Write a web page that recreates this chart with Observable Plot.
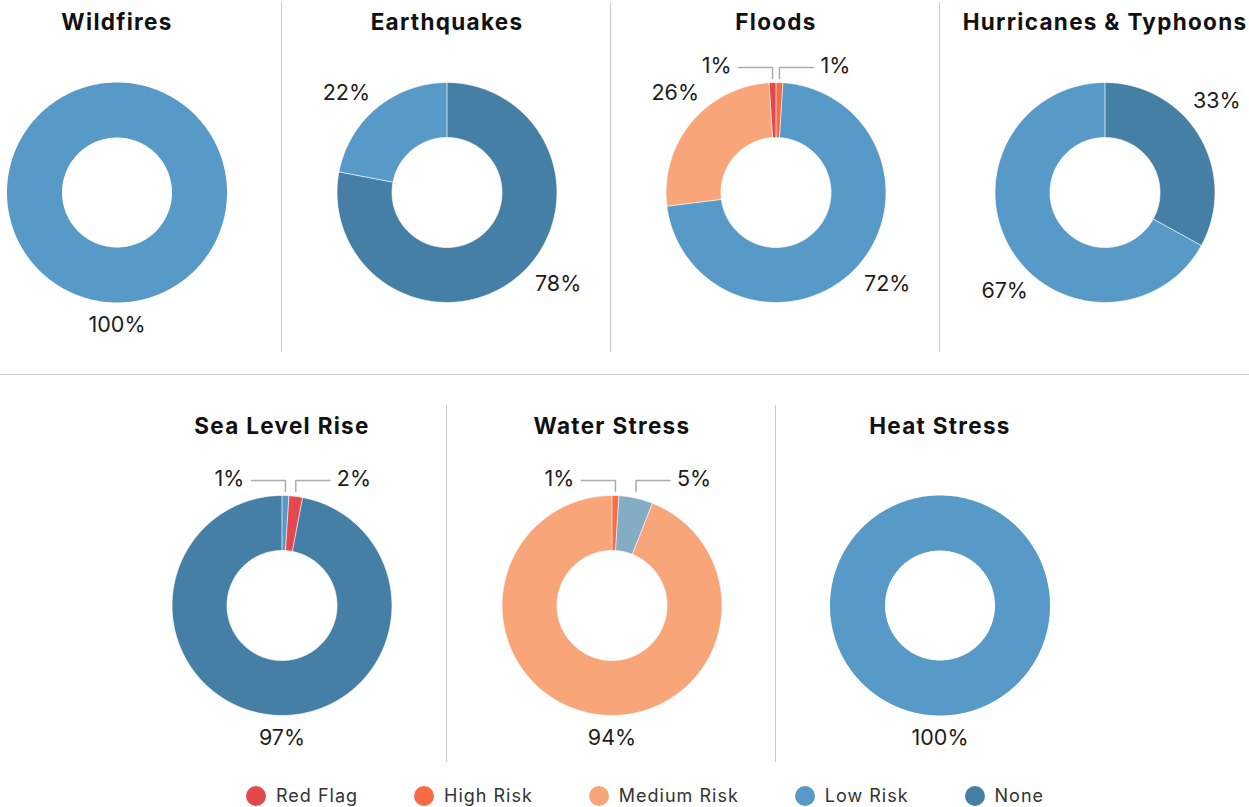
<!DOCTYPE html>
<html><head><meta charset="utf-8">
<script src="https://cdn.jsdelivr.net/npm/d3@7"></script>
<script src="https://cdn.jsdelivr.net/npm/@observablehq/plot@0.6"></script>
<style>
html,body{margin:0;padding:0;background:#fff;width:1249px;height:807px;overflow:hidden;font-family:Inter,"Open Sans",sans-serif;}
#root{position:relative;width:1249px;height:807px;overflow:hidden;}
.panel{position:absolute;width:329px;}
.panel svg{overflow:visible;max-width:none !important;}
.vsep{position:absolute;width:1px;background:#cacaca;}
.hsep{position:absolute;height:1px;background:#cacaca;left:0;width:1249px;top:374px;}
#legend{position:absolute;top:785px;left:246px;display:flex;align-items:center;font-size:18px;color:#333;letter-spacing:1px;white-space:nowrap;}
.item{display:flex;align-items:center;margin-right:56px;}
.sw{width:20px;height:20px;border-radius:50%;margin-right:10px;flex:none;}
</style></head><body><div id="root"></div>
<script>
// ---- data ----
const categories = ["Red Flag","High Risk","Medium Risk","Low Risk","None","Unrated"];
const categoryColors = ["#e4484f","#f86c45","#f9a57a","#5799c7","#467fa5","#84acc5"];
const legendCategories = ["Red Flag","High Risk","Medium Risk","Low Risk","None"];

const hazardNames = ["Wildfires","Earthquakes","Floods","Hurricanes & Typhoons","Sea Level Rise","Water Stress","Heat Stress"];

const wildfiresCategories = ["Low Risk"];
const wildfiresValues = [100];
const earthquakesCategories = ["None","Low Risk"];
const earthquakesValues = [78,22];
const floodsCategories = ["High Risk","Low Risk","Medium Risk","Red Flag"];
const floodsValues = [1,72,26,1];
const hurricanesCategories = ["None","Low Risk"];
const hurricanesValues = [33,67];
const seaLevelCategories = ["Low Risk","Red Flag","None"];
const seaLevelValues = [1,2,97];
const waterStressCategories = ["High Risk","Unrated","Medium Risk"];
const waterStressValues = [1,5,94];
const heatStressCategories = ["Low Risk"];
const heatStressValues = [100];

const hazards = [
  {name: hazardNames[0], cats: wildfiresCategories, vals: wildfiresValues},
  {name: hazardNames[1], cats: earthquakesCategories, vals: earthquakesValues},
  {name: hazardNames[2], cats: floodsCategories, vals: floodsValues},
  {name: hazardNames[3], cats: hurricanesCategories, vals: hurricanesValues},
  {name: hazardNames[4], cats: seaLevelCategories, vals: seaLevelValues},
  {name: hazardNames[5], cats: waterStressCategories, vals: waterStressValues},
  {name: hazardNames[6], cats: heatStressCategories, vals: heatStressValues}
];

// ---- layout ----
const R = 110, r = 55, PW = 329;
const topCenters = [116, 446, 775, 1104];
const bottomCenters = [281, 611, 939];
const root = document.getElementById("root");

function donut(h, H, cy, titleDy) {
  const total = d3.sum(h.vals);
  let cum = 0;
  const slices = h.vals.map((v, i) => {
    const a0 = cum / total * 2 * Math.PI; cum += v;
    const a1 = cum / total * 2 * Math.PI;
    return {id: i, cat: h.cats[i], v, a0, a1, mid: (a0 + a1) / 2, full: v === total};
  });
  const pts = [];
  for (const s of slices) {
    const n = Math.max(2, Math.ceil((s.a1 - s.a0) / (Math.PI / 180)));
    for (let k = 0; k <= n; k++) { const a = s.a0 + (s.a1 - s.a0) * k / n; pts.push({id: s.id, cat: s.cat, full: s.full, x: R * Math.sin(a), y: -R * Math.cos(a)}); }
    for (let k = n; k >= 0; k--) { const a = s.a0 + (s.a1 - s.a0) * k / n; pts.push({id: s.id, cat: s.cat, full: s.full, x: r * Math.sin(a), y: -r * Math.cos(a)}); }
  }
  // labels
  const deg = s => s.mid * 180 / Math.PI;
  const signed = s => (deg(s) > 180 ? deg(s) - 360 : deg(s));
  const small = slices.filter(s => s.v < 6 && (deg(s) < 30 || deg(s) > 330)).sort((a, b) => signed(a) - signed(b));
  const leaders = [], labels = [];
  small.forEach((s, i) => {
    const side = small.length > 1 ? (i === 0 ? -1 : 1) : (signed(s) < 0 ? -1 : 1);
    const xv = R * Math.sin(s.mid);
    const yTop = -R - 4, yH = -R - 15;
    leaders.push({id: s.id, x: xv, y: yTop}, {id: s.id, x: xv, y: yH}, {id: s.id, x: xv + side * 34, y: yH});
    labels.push({text: s.v + "%", x: xv + side * 41, y: yH - 1, anchor: side < 0 ? "end" : "start"});
  });
  for (const s of slices) {
    if (small.includes(s)) continue;
    const d = deg(s);
    if (Math.abs(d - 180) < 20) {
      labels.push({text: s.v + "%", x: 0, y: R + 23, anchor: "middle"});
    } else {
      const right = d < 180, lower = d > 90 && d < 270;
      const vy = lower ? 1 : -1;
      if (right) labels.push({text: s.v + "%", x: R * 0.8, y: vy * R * 0.83, anchor: "start"});
      else labels.push({text: s.v + "%", x: -R * 0.7, y: vy * R * 0.9, anchor: "end"});
    }
  }
  const txt = (anchor) => Plot.text(labels.filter(l => l.anchor === anchor), {x: "x", y: "y", text: "text", textAnchor: anchor, lineAnchor: "middle", fontSize: 21.5, fill: "#1c1c1c"});
  const svg = Plot.plot({
    width: PW, height: H, margin: 0,
    x: {domain: [-PW / 2, PW / 2], range: [0, PW], axis: null},
    y: {domain: [-cy, H - cy], range: [0, H], axis: null},
    color: {domain: categories, range: categoryColors},
    style: {fontFamily: "Inter, 'Open Sans', sans-serif", background: "transparent", overflow: "visible"},
    marks: [
      Plot.line(pts, {x: "x", y: "y", z: "id", fill: "cat", stroke: null, curve: "linear"}),
      Plot.line(pts.filter(p => !p.full), {x: "x", y: "y", z: "id", fill: "none", stroke: "white", strokeWidth: 0.7, curve: "linear"}),
      Plot.line(leaders, {x: "x", y: "y", z: "id", stroke: "#ababab", strokeWidth: 1.5, curve: "linear"}),
      txt("start"), txt("end"), txt("middle"),
      Plot.text([h.name], {frameAnchor: "top", dy: titleDy, text: d => d, lineAnchor: "middle", fontSize: 22.5, fontWeight: 700, fill: "#111"})
    ]
  });
  d3.select(svg).selectAll("text").filter(function() { return this.textContent === h.name; })
    .style("letter-spacing", "1.3px");
  return svg;
}

function place(node, left, top) {
  const div = document.createElement("div");
  div.className = "panel"; div.style.left = left + "px"; div.style.top = top + "px";
  div.appendChild(node); root.appendChild(div);
}
function vsep(x, y0, y1) {
  const d = document.createElement("div"); d.className = "vsep";
  d.style.left = x + "px"; d.style.top = y0 + "px"; d.style.height = (y1 - y0) + "px"; root.appendChild(d);
}

topCenters.forEach((c, i) => place(donut(hazards[i], 352, 192, 22), c - PW / 2, 0));
bottomCenters.forEach((c, i) => place(donut(hazards[4 + i], 395, 230, 51), c - PW / 2, 375));
[281, 610, 939].forEach(x => vsep(x, 2, 352));
[446, 775].forEach(x => vsep(x, 405, 762));
const hs = document.createElement("div"); hs.className = "hsep"; root.appendChild(hs);

// legend
const legend = document.createElement("div"); legend.id = "legend";
legendCategories.forEach(cat => {
  const it = document.createElement("div"); it.className = "item";
  const sw = document.createElement("span"); sw.className = "sw";
  sw.style.background = categoryColors[categories.indexOf(cat)];
  const t = document.createElement("span"); t.textContent = cat;
  it.appendChild(sw); it.appendChild(t); legend.appendChild(it);
});
root.appendChild(legend);
</script></body></html>
